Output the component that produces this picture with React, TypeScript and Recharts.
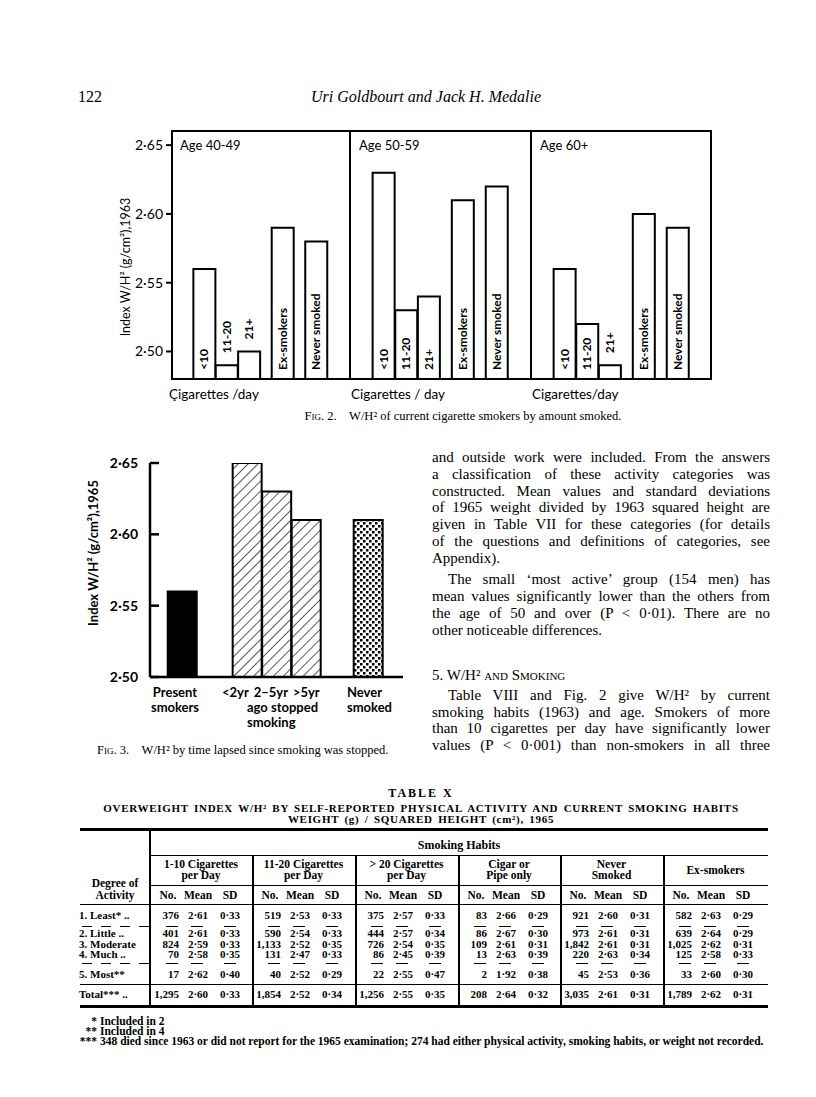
import React from "react";
import { Bar, BarChart, Cell, LabelList, XAxis, YAxis } from "recharts";

// ---- data ----
const fig2Groups = ["<10", "11-20", "21+", "Ex-smokers", "Never smoked"];
const fig2Age4049 = [2.56, 2.49, 2.5, 2.59, 2.58];
const fig2Age5059 = [2.63, 2.53, 2.54, 2.61, 2.62];
const fig2Age60 = [2.56, 2.52, 2.49, 2.6, 2.59];
const fig2Ticks = [2.5, 2.55, 2.6, 2.65];

const fig3Groups = ["Present smokers", "<2yr", "2-5yr", ">5yr", "Never smoked"];
const fig3Values = [2.56, 2.65, 2.63, 2.61, 2.61];
const fig3Ticks = [2.5, 2.55, 2.6, 2.65];

const activityLabels = ["1. Least* ..", "2. Little ..", "3. Moderate", "4. Much ..", "5. Most**", "Total*** .."];
const tableGroups = [
  ["1-10 Cigarettes", "per Day"],
  ["11-20 Cigarettes", "per Day"],
  ["> 20 Cigarettes", "per Day"],
  ["Cigar or", "Pipe only"],
  ["Never", "Smoked"],
  ["Ex-smokers"],
];
const t1to10 = [[376, 2.61, 0.33], [401, 2.61, 0.33], [824, 2.59, 0.33], [70, 2.58, 0.35], [17, 2.62, 0.4], [1295, 2.6, 0.33]];
const t11to20 = [[519, 2.53, 0.33], [590, 2.54, 0.33], [1133, 2.52, 0.35], [131, 2.47, 0.33], [40, 2.52, 0.29], [1854, 2.52, 0.34]];
const tOver20 = [[375, 2.57, 0.33], [444, 2.57, 0.34], [726, 2.54, 0.35], [86, 2.45, 0.39], [22, 2.55, 0.47], [1256, 2.55, 0.35]];
const tCigar = [[83, 2.66, 0.29], [86, 2.67, 0.3], [109, 2.61, 0.31], [13, 2.63, 0.39], [2, 1.92, 0.38], [208, 2.64, 0.32]];
const tNever = [[921, 2.6, 0.31], [973, 2.61, 0.31], [1842, 2.61, 0.31], [220, 2.63, 0.34], [45, 2.53, 0.36], [3035, 2.61, 0.31]];
const tEx = [[582, 2.63, 0.29], [639, 2.64, 0.29], [1025, 2.62, 0.31], [125, 2.58, 0.33], [33, 2.6, 0.3], [1789, 2.62, 0.31]];
const tableCols = [t1to10, t11to20, tOver20, tCigar, tNever, tEx];

// ---- layout (not data) ----
const FIG2_SLOTS = [0, 2, 4, 7, 10];
const FIG3_SLOTS = [0, 2.2, 3.2, 4.2, 6.3];
const FIG3_FILLS = ["#000", "url(#hatch)", "url(#hatch)", "url(#hatch)", "url(#stipple)"];

const SANS = "Lato, 'DejaVu Sans', sans-serif";
const SERIF = "'Liberation Serif', 'Times New Roman', serif";
const dot = (v: number) => v.toFixed(2).replace(".", "·");

function Txt({ x, y, size = 15, lh = 1.3, anchor = "start", style, children }: any) {
  const h = Math.round(size * lh);
  const tx = anchor === "middle" ? "translateX(-50%)" : anchor === "end" ? "translateX(-100%)" : undefined;
  return (
    <div
      style={{
        position: "absolute",
        left: x,
        top: y - h / 2,
        height: h,
        lineHeight: `${h}px`,
        fontSize: size,
        whiteSpace: "nowrap",
        transform: tx,
        ...style,
      }}
    >
      {children}
    </div>
  );
}

function VTxt({ x, y, size, style, children }: any) {
  return (
    <div
      style={{
        position: "absolute",
        left: x,
        top: y,
        fontSize: size,
        whiteSpace: "nowrap",
        transform: "translate(-50%,-50%) rotate(-90deg)",
        ...style,
      }}
    >
      {children}
    </div>
  );
}

function Line({ x, y, w, h, style }: any) {
  return <div style={{ position: "absolute", left: x, top: y, width: w, height: h, background: "#000", ...style }} />;
}

function BarTag(props: any) {
  const vb = props.viewBox || props;
  const { x, y, width, height } = vb;
  const value = String(props.value);
  const len = value.length * 6.3;
  const inside = height > len + 16;
  const y0 = inside ? y + height - 9 : y - 12;
  const cx = x + width / 2 + 4;
  return (
    <text
      x={cx}
      y={y0}
      transform={`rotate(-90 ${cx} ${y0})`}
      textAnchor="start"
      fontFamily={SANS}
      fontWeight="bold"
      fontSize={12}
      fill="#000"
    >
      {value}
    </text>
  );
}

function Fig2Panel({ values, left, width, withAxis }: any) {
  const data = fig2Groups.map((g, i) => ({ g, slot: FIG2_SLOTS[i], v: values[i] }));
  const axisW = withAxis ? 50 : 0;
  return (
    <div style={{ position: "absolute", left: left - axisW, top: 130 }}>
      <BarChart width={width + axisW} height={249} data={data} margin={{ top: 0, right: 0, bottom: 0, left: 0 }}>
        <XAxis type="number" dataKey="slot" domain={[-3, 13]} allowDataOverflow hide />
        <YAxis
          type="number"
          domain={[2.48, 2.661]}
          allowDataOverflow
          hide={!withAxis}
          width={axisW}
          ticks={fig2Ticks}
          interval={0}
          tickFormatter={dot}
          axisLine={false}
          tickLine={{ stroke: "#000", strokeWidth: 2 }}
          tickSize={5}
          tickMargin={3}
          tick={{ fill: "#000", fontSize: 14, fontFamily: SANS }}
        />
        <Bar dataKey="v" barSize={22} fill="#fff" stroke="#000" strokeWidth={2} isAnimationActive={false}>
          <LabelList dataKey="g" content={BarTag} />
        </Bar>
      </BarChart>
    </div>
  );
}

function Fig3Tick({ x, y, payload }: any) {
  return (
    <g>
      <line x1={x + 12} x2={x + 21} y1={y} y2={y} stroke="#000" strokeWidth={2.5} />
      <text x={x} y={y} dy={5} textAnchor="end" fontFamily={SANS} fontWeight="bold" fontSize={14} fill="#000">
        {dot(payload.value)}
      </text>
    </g>
  );
}

function Fig3() {
  const data = fig3Groups.map((g, i) => ({ g, slot: FIG3_SLOTS[i], v: fig3Values[i] }));
  return (
    <div style={{ position: "absolute", left: 90, top: 453 }}>
      <BarChart width={313} height={236} data={data} margin={{ top: 10, right: 0, bottom: 10, left: 0 }}>
        <defs>
          <pattern id="hatch" patternUnits="userSpaceOnUse" width="7" height="7" patternTransform="rotate(45)">
            <rect width="7" height="7" fill="#fff" />
            <line x1="0" y1="0" x2="0" y2="7" stroke="#000" strokeWidth="1.3" />
          </pattern>
          <pattern id="stipple" patternUnits="userSpaceOnUse" width="6" height="6">
            <rect width="6" height="6" fill="#fff" />
            <rect width="2.5" height="2.5" fill="#000" />
            <rect x="3" y="3" width="2.5" height="2.5" fill="#000" />
          </pattern>
        </defs>
        <XAxis
          type="number"
          dataKey="slot"
          domain={[-1.1, 7.47]}
          allowDataOverflow
          tick={false}
          tickLine={false}
          axisLine={{ stroke: "#000", strokeWidth: 2.5 }}
          height={2}
        />
        <YAxis
          type="number"
          domain={[2.5, 2.65]}
          allowDataOverflow
          width={60}
          ticks={fig3Ticks}
          interval={0}
          axisLine={{ stroke: "#000", strokeWidth: 2.5 }}
          tickLine={false}
          tickSize={0}
          tickMargin={12}
          tick={<Fig3Tick />}
        />
        <Bar dataKey="v" barSize={29} stroke="#000" strokeWidth={2} isAnimationActive={false}>
          {data.map((d, i) => (
            <Cell key={d.g} fill={FIG3_FILLS[i]} />
          ))}
        </Bar>
      </BarChart>
    </div>
  );
}

function JLine({ y, text, indent = 0, last = false }: any) {
  return (
    <div
      style={{
        position: "absolute",
        left: 432 + indent,
        width: 338 - indent,
        top: y - 9,
        height: 18,
        lineHeight: "18px",
        fontSize: 15,
        whiteSpace: "nowrap",
        textAlign: last ? "left" : "justify",
        textAlignLast: last ? "left" : "justify",
      }}
    >
      {text}
    </div>
  );
}

const bodyLines: [number, string, number, boolean][] = [
  [457, "and outside work were included. From the answers", 0, false],
  [474, "a classification of these activity categories was", 0, false],
  [491, "constructed. Mean values and standard deviations", 0, false],
  [507, "of 1965 weight divided by 1963 squared height are", 0, false],
  [524, "given in Table VII for these categories (for details", 0, false],
  [541, "of the questions and definitions of categories, see", 0, false],
  [558, "Appendix).", 0, true],
  [579, "The small ‘most active’ group (154 men) has", 16, false],
  [596, "mean values significantly lower than the others from", 0, false],
  [613, "the age of 50 and over (P < 0·01). There are no", 0, false],
  [630, "other noticeable differences.", 0, true],
  [695, "Table VIII and Fig. 2 give W/H² by current", 16, false],
  [712, "smoking habits (1963) and age. Smokers of more", 0, false],
  [728, "than 10 cigarettes per day have significantly lower", 0, false],
  [745, "values (P < 0·001) than non-smokers in all three", 0, false],
];

const GX = [150, 252, 355, 458, 560, 663, 768];
const ROW_Y = [915, 933, 944, 954, 974, 994];

function Table() {
  const bold = { fontWeight: "bold" as const };
  const TS = 11;
  const dashes = (y: number) => (
    <>
      {[82, 101, 120, 139].map((x) => (
        <Line key={"a" + x} x={x} y={y} w={10} h={1} />
      ))}
      {GX.slice(0, 6).map((gx) =>
        [gx + 16, gx + 41, gx + 74].map((x) => <Line key={x} x={x} y={y} w={12} h={1} />)
      )}
    </>
  );
  return (
    <>
      <Txt x={421} y={793} size={12} anchor="middle" style={{ ...bold, letterSpacing: 2 }}>
        TABLE X
      </Txt>
      <Txt x={421} y={808} size={11} lh={1} anchor="middle" style={{ ...bold, letterSpacing: 0.7, wordSpacing: 2 }}>
        OVERWEIGHT INDEX W/H² BY SELF-REPORTED PHYSICAL ACTIVITY AND CURRENT SMOKING HABITS
      </Txt>
      <Txt x={421} y={819} size={11} lh={1} anchor="middle" style={{ ...bold, letterSpacing: 0.7, wordSpacing: 2 }}>
        WEIGHT (g) / SQUARED HEIGHT (cm²), 1965
      </Txt>
      <Line x={80} y={828} w={688} h={3} />
      <Line x={149} y={830} w={1.5} h={177} />
      <Txt x={459} y={845} size={12} style={bold} anchor="middle">
        Smoking Habits
      </Txt>
      <Line x={150} y={855} w={618} h={1.2} />
      {GX.slice(1, 6).map((x) => (
        <Line key={x} x={x} y={855} w={1.5} h={152} />
      ))}
      {tableGroups.map((lines, gi) => {
        const cx = (GX[gi] + GX[gi + 1]) / 2;
        return lines.length === 2 ? (
          <React.Fragment key={gi}>
            <Txt x={cx} y={864} size={11.5} lh={0.95} anchor="middle" style={bold}>{lines[0]}</Txt>
            <Txt x={cx} y={875} size={11.5} lh={0.95} anchor="middle" style={bold}>{lines[1]}</Txt>
          </React.Fragment>
        ) : (
          <Txt key={gi} x={cx} y={870} size={11.5} lh={1} anchor="middle" style={bold}>{lines[0]}</Txt>
        );
      })}
      <Line x={150} y={885} w={618} h={1.2} />
      <Txt x={115} y={883} size={11.5} lh={1} anchor="middle" style={bold}>Degree of</Txt>
      <Txt x={115} y={895} size={11.5} lh={1} anchor="middle" style={bold}>Activity</Txt>
      {GX.slice(0, 6).map((gx) => (
        <React.Fragment key={gx}>
          <Txt x={gx + 18} y={895} size={11.5} lh={1} anchor="middle" style={bold}>No.</Txt>
          <Txt x={gx + 48} y={895} size={11.5} lh={1} anchor="middle" style={bold}>Mean</Txt>
          <Txt x={gx + 80} y={895} size={11.5} lh={1} anchor="middle" style={bold}>SD</Txt>
        </React.Fragment>
      ))}
      <Line x={80} y={904} w={688} h={1.2} />
      {activityLabels.map((lab, ri) => (
        <Txt key={lab} x={79} y={ROW_Y[ri]} size={TS} lh={0.95} style={bold}>{lab}</Txt>
      ))}
      {tableCols.map((col, gi) =>
        col.map((row, ri) => (
          <React.Fragment key={gi + "-" + ri}>
            <Txt x={GX[gi] + 29} y={ROW_Y[ri]} size={TS} lh={0.95} anchor="end" style={bold}>
              {row[0].toLocaleString("en-US")}
            </Txt>
            <Txt x={GX[gi] + 48} y={ROW_Y[ri]} size={TS} lh={0.95} anchor="middle" style={bold}>{dot(row[1])}</Txt>
            <Txt x={GX[gi] + 80} y={ROW_Y[ri]} size={TS} lh={0.95} anchor="middle" style={bold}>{dot(row[2])}</Txt>
          </React.Fragment>
        ))
      )}
      {dashes(926)}
      {dashes(963)}
      <Line x={80} y={984} w={688} h={1.2} />
      <Line x={80} y={1005} w={688} h={3} />
      <Txt x={97} y={1021} size={11.5} lh={0.9} anchor="end" style={bold}>*</Txt>
      <Txt x={100} y={1021} size={11.5} lh={0.9} style={bold}>Included in 2</Txt>
      <Txt x={97} y={1031} size={11.5} lh={0.9} anchor="end" style={bold}>**</Txt>
      <Txt x={100} y={1031} size={11.5} lh={0.9} style={bold}>Included in 4</Txt>
      <Txt x={97} y={1041} size={11.5} lh={0.9} anchor="end" style={bold}>***</Txt>
      <Txt x={100} y={1041} size={11.5} lh={0.9} style={bold}>
        348 died since 1963 or did not report for the 1965 examination; 274 had either physical activity, smoking habits, or weight not recorded.
      </Txt>
    </>
  );
}

export default function App() {
  const panels = [
    { values: fig2Age4049, left: 171, width: 179, title: "Age 40-49" },
    { values: fig2Age5059, left: 350, width: 181, title: "Age 50-59" },
    { values: fig2Age60, left: 531, width: 181, title: "Age 60+" },
  ];
  return (
    <div
      style={{
        position: "absolute",
        left: 0,
        top: 0,
        width: 816,
        height: 1097,
        background: "#fff",
        color: "#000",
        fontFamily: SERIF,
        overflow: "hidden",
      }}
    >
      <Txt x={78} y={96} size={16}>122</Txt>
      <Txt x={426} y={96} size={16} anchor="middle" style={{ fontStyle: "italic" }}>
        Uri Goldbourt and Jack H. Medalie
      </Txt>

      {/* Fig. 2 */}
      <div
        style={{
          position: "absolute",
          left: 171,
          top: 130,
          width: 541,
          height: 250,
          border: "2px solid #000",
          boxSizing: "border-box",
        }}
      />
      <Line x={349} y={130} w={2} h={250} />
      <Line x={530} y={130} w={2} h={250} />
      {panels.map((p, i) => (
        <React.Fragment key={p.title}>
          <Fig2Panel values={p.values} left={p.left} width={p.width} withAxis={i === 0} />
          <Txt x={p.left + 9} y={145} size={13} style={{ fontFamily: SANS }}>{p.title}</Txt>
          <Txt x={p.left - 2 + (i === 0 ? 0 : 3)} y={394} size={13.5} style={{ fontFamily: SANS }}>
            {i === 0 ? "Çigarettes /day" : i === 1 ? "Cigarettes / day" : "Cigarettes/day"}
          </Txt>
        </React.Fragment>
      ))}
      <VTxt x={125} y={267} size={12.5} style={{ fontFamily: SANS }}>
        Index W/H² (g/cm²),1963
      </VTxt>
      <Txt x={463} y={416} size={12.5} anchor="middle">
        <span style={{ fontVariant: "small-caps" }}>Fig. 2.</span>
        {"\u2003W/H² of current cigarette smokers by amount smoked."}
      </Txt>

      {/* Fig. 3 */}
      <Fig3 />
      <VTxt x={93} y={553} size={13} style={{ fontFamily: SANS, fontWeight: "bold" }}>
        Index W/H² (g/cm²),1965
      </VTxt>
      <Txt x={175} y={692} size={13} anchor="middle" style={{ fontFamily: SANS, fontWeight: "bold" }}>Present</Txt>
      <Txt x={175} y={707} size={13} anchor="middle" style={{ fontFamily: SANS, fontWeight: "bold" }}>smokers</Txt>
      <Txt x={222} y={692} size={13} style={{ fontFamily: SANS, fontWeight: "bold", wordSpacing: 2 }}>
        {"<2yr 2–5yr >5yr"}
      </Txt>
      <Txt x={247} y={707} size={13} style={{ fontFamily: SANS, fontWeight: "bold" }}>ago stopped</Txt>
      <Txt x={247} y={722} size={13} style={{ fontFamily: SANS, fontWeight: "bold" }}>smoking</Txt>
      <Txt x={347} y={692} size={13} style={{ fontFamily: SANS, fontWeight: "bold" }}>Never</Txt>
      <Txt x={347} y={707} size={13} style={{ fontFamily: SANS, fontWeight: "bold" }}>smoked</Txt>
      <Txt x={97} y={750} size={12.5}>
        <span style={{ fontVariant: "small-caps" }}>Fig. 3.</span>
        {"\u2003W/H² by time lapsed since smoking was stopped."}
      </Txt>

      {/* body text */}
      {bodyLines.slice(0, 11).map(([y, t, ind, last]) => (
        <JLine key={y} y={y} text={t} indent={ind} last={last} />
      ))}
      <Txt x={432} y={675} size={15}>
        5. W/H² <span style={{ fontVariant: "small-caps" }}>and Smoking</span>
      </Txt>
      {bodyLines.slice(11).map(([y, t, ind, last]) => (
        <JLine key={y} y={y} text={t} indent={ind} last={last} />
      ))}

      <Table />
    </div>
  );
}
